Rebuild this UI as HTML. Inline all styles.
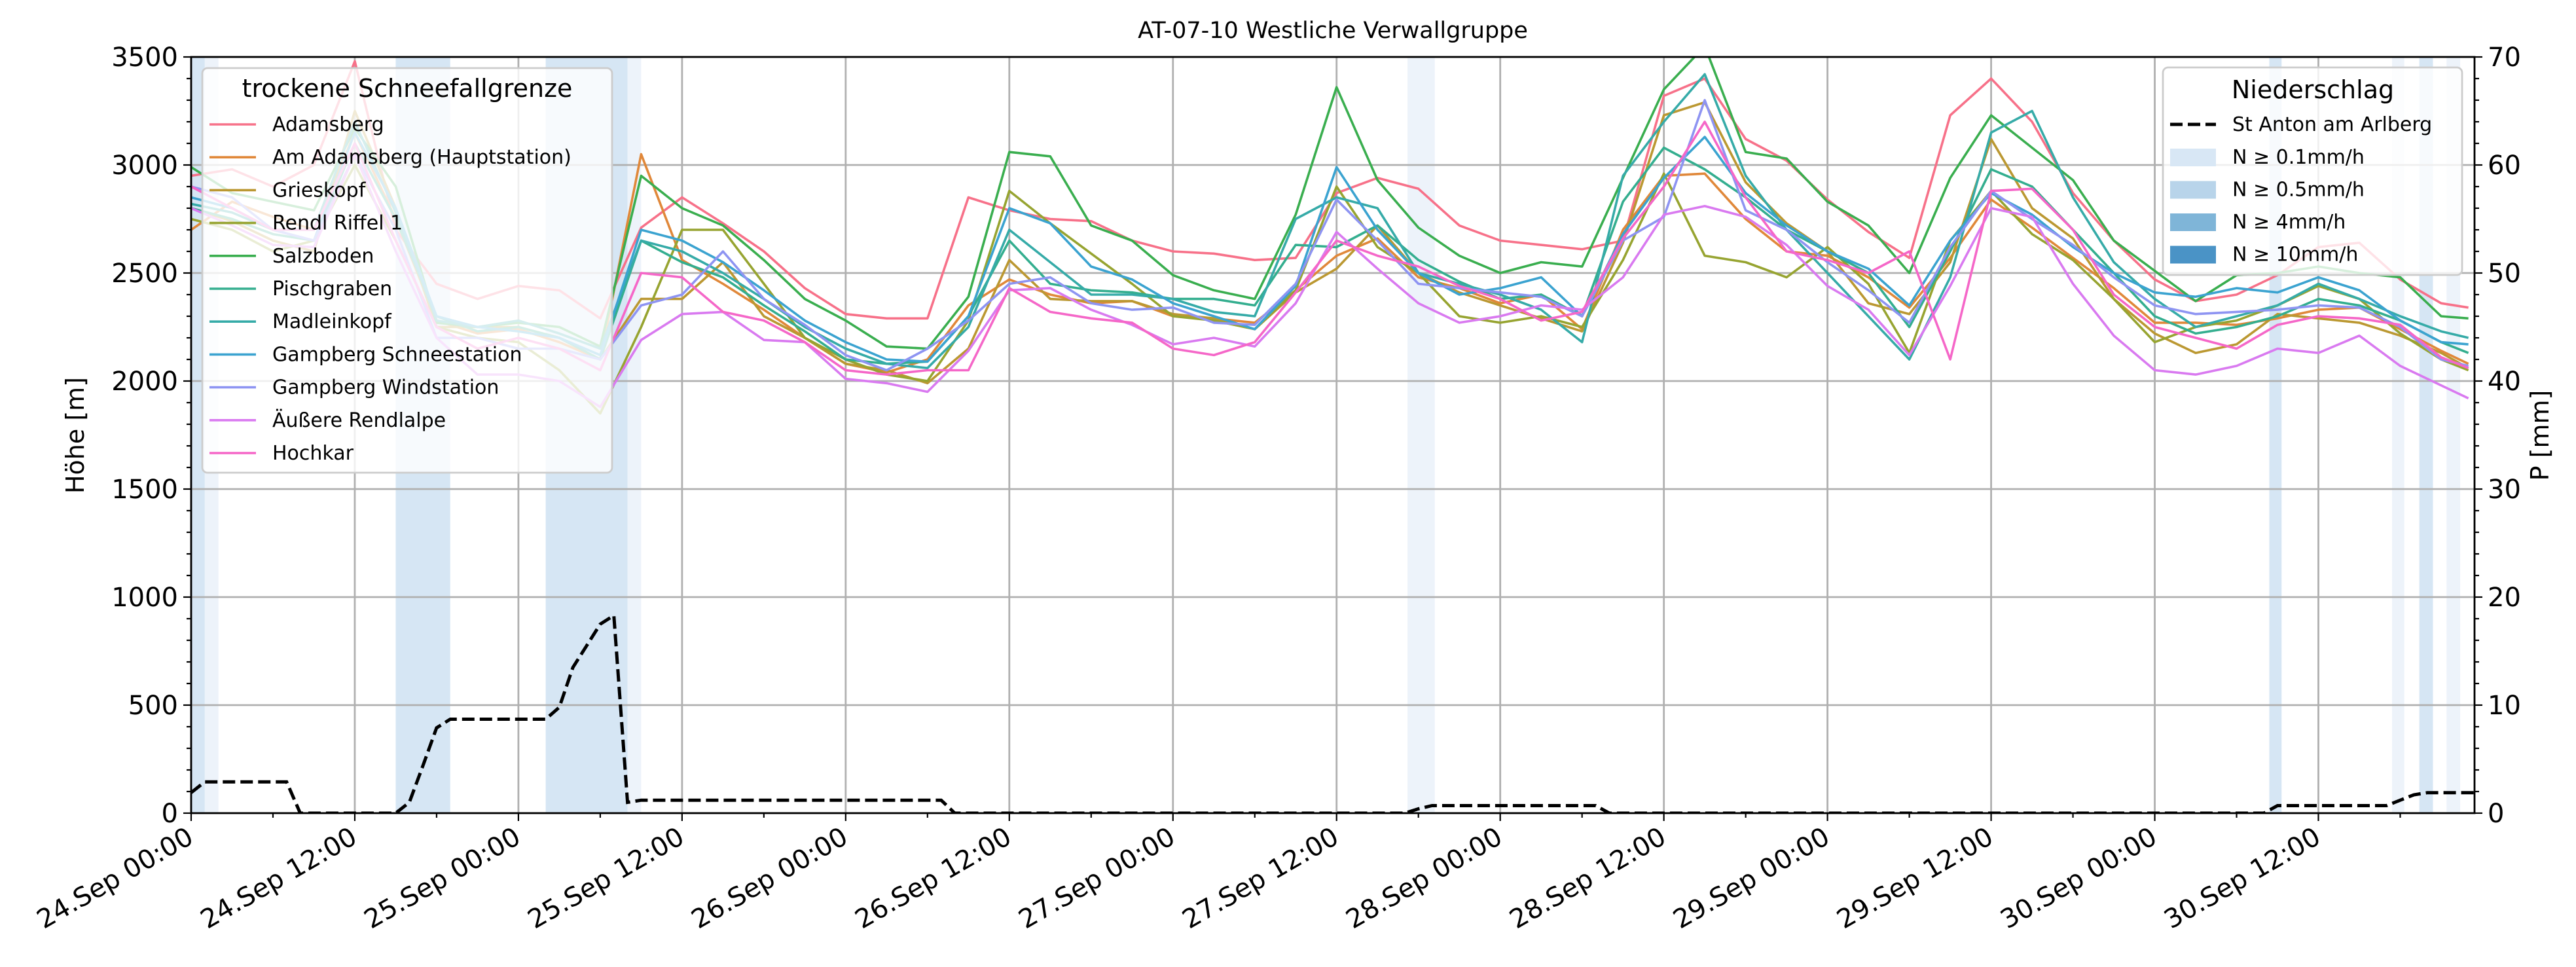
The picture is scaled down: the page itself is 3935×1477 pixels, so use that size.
<!DOCTYPE html>
<html><head><meta charset="utf-8"><style>
html,body{margin:0;padding:0;background:#fff}
svg{display:block;font-family:"DejaVu Sans","Liberation Sans",sans-serif}
</style></head><body>
<svg id="chart" width="3935" height="1477" viewBox="0 0 3935 1477" xmlns="http://www.w3.org/2000/svg">
<defs><clipPath id="plotclip"><rect x="292" y="87" width="3488" height="1155"/></clipPath></defs>
<rect x="0" y="0" width="3935" height="1477" fill="#fff"/>
<g id="bands" clip-path="url(#plotclip)"></g>
<g id="grid"></g>
<g id="series" clip-path="url(#plotclip)"></g>
<g id="precip" clip-path="url(#plotclip)"></g>
<g id="axes"></g>
<text x="2036" y="58" text-anchor="middle" font-size="35">AT-07-10 Westliche Verwallgruppe</text>
<text transform="translate(128,665) rotate(-90)" text-anchor="middle" font-size="38">Höhe [m]</text>
<text transform="translate(3893,665) rotate(-90)" text-anchor="middle" font-size="38">P [mm]</text>
<g id="legend1"></g>
<g id="legend2"></g>
</svg>
<script>
const times=[0,3,6,9,12,15,18,21,24,27,30,33,36,39,42,45,48,51,54,57,60,63,66,69,72,75,78,81,84,87,90,93,96,99,102,105,108,111,114,117,120,123,126,129,132,135,138,141,144,147,150,153,156,159,162,165,167];
const names=["Adamsberg","Am Adamsberg (Hauptstation)","Grieskopf","Rendl Riffel 1","Salzboden","Pischgraben","Madleinkopf","Gampberg Schneestation","Gampberg Windstation","Äußere Rendlalpe","Hochkar"];
const colors=["#f77189","#e0883a","#bb9832","#97a431","#3aae4f","#34ae8f","#36aba8","#3ba3d0","#8e94f2","#d97af0","#f567c8"];
const sAdamsberg=[2950,2980,2900,3000,3480,2700,2450,2380,2440,2420,2290,2710,2850,2730,2600,2430,2310,2290,2290,2850,2790,2750,2740,2650,2600,2590,2560,2570,2870,2940,2890,2720,2650,2630,2610,2650,3320,3400,3120,3020,2840,2690,2570,3230,3400,3200,2870,2650,2470,2370,2400,2490,2620,2640,2470,2360,2340];
const sAmAdamsberg=[2700,2830,2760,2700,3150,2750,2280,2220,2240,2180,2100,3050,2560,2450,2330,2200,2080,2040,2100,2350,2470,2400,2360,2370,2300,2290,2270,2420,2580,2660,2480,2430,2360,2400,2240,2700,2950,2960,2750,2600,2580,2480,2340,2570,2840,2710,2570,2430,2270,2270,2260,2290,2330,2340,2240,2140,2080];
const sGrieskopf=[2800,2740,2650,2600,3250,2800,2250,2250,2250,2200,2100,2380,2380,2550,2300,2200,2080,2050,1990,2150,2560,2380,2370,2370,2310,2290,2240,2410,2520,2720,2500,2410,2350,2290,2230,2640,3230,3290,2920,2730,2600,2360,2310,2550,3120,2800,2660,2380,2220,2130,2170,2310,2290,2270,2210,2130,2060];
const sRendlRiffel=[2750,2700,2600,2650,3000,2650,2250,2200,2180,2050,1850,2250,2700,2700,2450,2200,2100,2030,2000,2280,2880,2730,2590,2450,2300,2280,2240,2420,2900,2620,2500,2300,2270,2300,2250,2560,2960,2580,2550,2480,2620,2450,2130,2650,2880,2680,2560,2380,2180,2250,2280,2350,2440,2380,2220,2100,2050];
const sSalzboden=[2990,2870,2830,2790,3170,2900,2270,2250,2270,2250,2160,2950,2800,2720,2560,2380,2280,2160,2150,2390,3060,3040,2720,2650,2490,2420,2380,2770,3360,2930,2710,2580,2500,2550,2530,2940,3350,3550,3060,3030,2830,2720,2500,2940,3230,3080,2930,2650,2510,2370,2490,2500,2530,2500,2480,2300,2290];
const sPischgraben=[2800,2750,2680,2650,3100,2750,2300,2230,2250,2200,2100,2650,2550,2480,2350,2230,2100,2080,2090,2300,2650,2450,2420,2410,2380,2380,2350,2630,2620,2720,2560,2460,2380,2400,2300,2830,3080,2980,2850,2700,2600,2500,2250,2600,2980,2900,2700,2500,2300,2220,2250,2300,2380,2350,2280,2180,2130];
const sMadleinkopf=[2820,2780,2700,2700,3200,2780,2280,2250,2280,2220,2150,2650,2600,2500,2380,2250,2150,2080,2060,2250,2700,2550,2400,2400,2380,2320,2300,2750,2850,2800,2500,2450,2400,2330,2180,2950,3200,3420,2950,2700,2500,2300,2100,2480,3150,3250,2850,2550,2380,2250,2300,2350,2450,2380,2300,2230,2200];
const sGampbergSchnee=[2850,2800,2700,2650,3150,2800,2300,2250,2230,2200,2120,2700,2650,2550,2420,2280,2180,2100,2090,2300,2800,2730,2530,2470,2360,2300,2240,2440,2990,2700,2500,2400,2430,2480,2300,2680,2940,3130,2870,2720,2600,2520,2350,2650,2870,2770,2620,2500,2410,2390,2430,2410,2480,2420,2280,2180,2170];
const sGampbergWind=[2900,2850,2700,2650,3050,2700,2200,2200,2150,2150,2100,2350,2400,2600,2380,2260,2120,2050,2150,2280,2450,2480,2360,2330,2340,2270,2260,2450,2840,2650,2450,2430,2410,2390,2300,2650,2760,3300,2790,2700,2550,2420,2270,2620,2880,2750,2630,2480,2350,2310,2320,2330,2350,2340,2250,2100,2070];
const sAeussere=[2800,2720,2630,2620,3050,2600,2200,2030,2030,2000,1880,2190,2310,2320,2190,2180,2010,1990,1950,2140,2420,2430,2330,2260,2170,2200,2160,2360,2690,2520,2360,2270,2300,2350,2330,2480,2770,2810,2760,2630,2440,2330,2120,2440,2800,2760,2450,2210,2050,2030,2070,2150,2130,2210,2070,1980,1920];
const sHochkar=[2900,2800,2700,2700,3100,2650,2250,2150,2200,2150,2050,2500,2480,2320,2280,2180,2050,2030,2050,2050,2430,2320,2290,2270,2150,2120,2180,2410,2650,2580,2530,2440,2380,2280,2320,2660,2900,3200,2850,2600,2560,2500,2600,2100,2880,2890,2700,2400,2250,2200,2150,2260,2300,2290,2260,2110,2060];
const seriesData=[sAdamsberg,sAmAdamsberg,sGrieskopf,sRendlRiffel,sSalzboden,sPischgraben,sMadleinkopf,sGampbergSchnee,sGampbergWind,sAeussere,sHochkar];
const precipTimes=[0,1,7,8,15,16,17,18,19,26,27,28,29,30,31,32,33,55,56,89,90,91,103,104,152,153,161,162,163,164,167.4];
const precipValues=[1.9,2.9,2.9,0,0,1.0,4.4,7.9,8.7,8.7,9.8,13.5,15.5,17.5,18.3,1.0,1.2,1.2,0,0,0.4,0.7,0.7,0,0,0.7,0.7,1.2,1.7,1.9,1.9];
const bandStart=[0,1,15,26,32,89.2,152.4,161.4,163.4,165.4];
const bandEnd=[1,2,19,32,33,91.2,153.3,162.3,164.4,166.4];
const bandLevel=[1,0,1,1,0,0,1,0,1,0];
const yTicks=[0,500,1000,1500,2000,2500,3000,3500];
const y2Ticks=[0,10,20,30,40,50,60,70];
const xTickLabels=["24.Sep 00:00","24.Sep 12:00","25.Sep 00:00","25.Sep 12:00","26.Sep 00:00","26.Sep 12:00","27.Sep 00:00","27.Sep 12:00","28.Sep 00:00","28.Sep 12:00","29.Sep 00:00","29.Sep 12:00","30.Sep 00:00","30.Sep 12:00"];

const X0=292,X1=3780,Y0=1242,Y1=87,HMAX=167.45;
const xs=h=>X0+(h/HMAX)*(X1-X0);
const ys=m=>Y0-(m/3500)*(Y0-Y1);
const ys2=p=>Y0-(p/70)*(Y0-Y1);
const NS="http://www.w3.org/2000/svg";
function mk(tag,attrs,parent){const e=document.createElementNS(NS,tag);for(const k in attrs)e.setAttribute(k,attrs[k]);parent.appendChild(e);return e;}
const gB=document.getElementById('bands'),gG=document.getElementById('grid'),gS=document.getElementById('series'),gP=document.getElementById('precip'),gA=document.getElementById('axes');
const bandColors=["#edf3fa","#d6e6f4"];
for(let i=0;i<bandStart.length;i++){
  const r=mk('rect',{x:xs(bandStart[i]),y:Y1,width:xs(bandEnd[i])-xs(bandStart[i]),height:Y0-Y1,fill:bandColors[bandLevel[i]]},gB);
  
  
}
for(let i=0;i<xTickLabels.length;i++){const x=xs(i*12);mk('line',{x1:x,x2:x,y1:Y1,y2:Y0,stroke:'#b0b0b0','stroke-width':2.8},gG);}
yTicks.forEach(v=>{const y=ys(v);mk('line',{x1:X0,x2:X1,y1:y,y2:y,stroke:'#b0b0b0','stroke-width':2.8},gG);});
seriesData.forEach((arr,si)=>{
  const d=arr.map((v,i)=>(i?'L':'M')+xs(times[i]).toFixed(1)+','+ys(v).toFixed(1)).join('');
  const p=mk('path',{d:d,fill:'none',stroke:colors[si],'stroke-width':3.6,'stroke-linejoin':'round'},gS);
  
  
});
{const d=precipValues.map((v,i)=>(i?'L':'M')+xs(precipTimes[i]).toFixed(1)+','+ys2(v).toFixed(1)).join('');
 const p=mk('path',{d:d,fill:'none',stroke:'#000','stroke-width':5,'stroke-dasharray':'19,8'},gP);
 
 }
mk('rect',{x:X0,y:Y1,width:X1-X0,height:Y0-Y1,fill:'none',stroke:'#000','stroke-width':2.8},gA);
for(let h=0;h<=HMAX;h+=6){const x=xs(h);const major=h%12===0;mk('line',{x1:x,x2:x,y1:Y0,y2:Y0+(major?12:7),stroke:'#000','stroke-width':2.2},gA);}
for(let m=0;m<=3500;m+=100){const y=ys(m);const major=m%500===0;mk('line',{x1:X0,x2:X0-(major?12:7),y1:y,y2:y,stroke:'#000','stroke-width':2.2},gA);}
for(let p=0;p<=70;p+=2){const y=ys2(p);const major=p%10===0;mk('line',{x1:X1,x2:X1+(major?12:7),y1:y,y2:y,stroke:'#000','stroke-width':2.2},gA);}
yTicks.forEach(v=>{const t=mk('text',{x:X0-20,y:ys(v)+14,'text-anchor':'end','font-size':40},gA);t.textContent=v;
 
 });
y2Ticks.forEach(v=>{const t=mk('text',{x:X1+20,y:ys2(v)+14,'text-anchor':'start','font-size':40},gA);t.textContent=v;
 
 });
xTickLabels.forEach((s,i)=>{const x=xs(i*12);const t=mk('text',{transform:`translate(${x+6},${Y0+44}) rotate(-30)`,'text-anchor':'end','font-size':40},gA);t.textContent=s;
 
 });
const L1=document.getElementById('legend1');
mk('rect',{x:309,y:104,width:626,height:618,rx:8,fill:'rgba(255,255,255,0.8)',stroke:'#cccccc','stroke-width':2.8},L1);
{const t=mk('text',{x:622,y:148,'text-anchor':'middle','font-size':38},L1);t.textContent='trockene Schneefallgrenze';}
names.forEach((n,i)=>{const y=190+i*50.2;
 const g=mk('g',{},L1);
 
 
 mk('line',{x1:320,x2:391,y1:y,y2:y,stroke:colors[i],'stroke-width':3.6},g);
 const t=mk('text',{x:416,y:y+10,'font-size':30},g);t.textContent=n;});
const L2=document.getElementById('legend2');
mk('rect',{x:3304,y:103,width:457,height:317,rx:8,fill:'rgba(255,255,255,0.8)',stroke:'#cccccc','stroke-width':2.8},L2);
{const t=mk('text',{x:3533,y:150,'text-anchor':'middle','font-size':38},L2);t.textContent='Niederschlag';}
{const g=mk('g',{},L2);
 
 
 mk('line',{x1:3315,x2:3385,y1:190,y2:190,stroke:'#000','stroke-width':5,'stroke-dasharray':'19,8'},g);
 const t=mk('text',{x:3410,y:200,'font-size':30},g);t.textContent='St Anton am Arlberg';}
const patchC=["#d8e7f5","#b8d4ea","#7fb5d8","#4a93c6"];
const patchL=["N ≥ 0.1mm/h","N ≥ 0.5mm/h","N ≥ 4mm/h","N ≥ 10mm/h"];
patchL.forEach((s,i)=>{const y=240+i*49.5;
 const g=mk('g',{},L2);
 
 
 mk('rect',{x:3315,y:y-13,width:70,height:27,fill:patchC[i]},g);
 const t=mk('text',{x:3410,y:y+10,'font-size':30},g);t.textContent=s;});
</script>
</body></html>
